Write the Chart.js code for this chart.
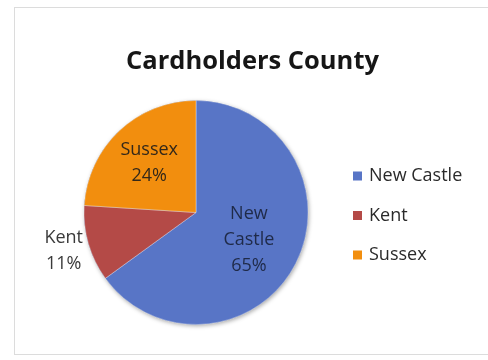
<!DOCTYPE html>
<html>
<head>
<meta charset="utf-8">
<script src="https://cdn.jsdelivr.net/npm/chart.js@4/dist/chart.umd.min.js"></script>
<style>
  html, body { margin:0; padding:0; background:#fff; }
  #frame { position:absolute; left:14px; top:7px; width:480px; height:348px; border:1px solid #dcdcdc; box-sizing:border-box; }
  #wrap { position:absolute; left:0; top:0; width:488px; height:360px; }
</style>
</head>
<body>
<div id="frame"></div>
<div id="wrap"><canvas id="c" width="488" height="360"></canvas></div>
<script>
const titleText = "Cardholders County";
const categories = ["New Castle", "Kent", "Sussex"];
const shares = [65, 11, 24];
const labelLines = [["New", "Castle", "65%"], ["Kent", "11%"], ["Sussex", "24%"]];
const colors = ["#5875C6", "#B44A47", "#F28E0E"];
const labelDist = [0.53, 1.23, 0.61];

const FONT = '"Open Sans", sans-serif';

const decorations = {
  id: 'decorations',
  beforeDatasetsDraw(chart) {
    const ctx = chart.ctx;
    const arc = chart.getDatasetMeta(0).data[0];
    if (!arc) return;
    const p = arc.getProps(['x','y','outerRadius'], true);
    ctx.save();
    ctx.shadowColor = 'rgba(0,0,0,0.35)';
    ctx.shadowBlur = 4;
    ctx.shadowOffsetX = 1;
    ctx.shadowOffsetY = 1.5;
    ctx.fillStyle = '#4a66b3';
    ctx.beginPath();
    ctx.arc(p.x, p.y, p.outerRadius, 0, Math.PI * 2);
    ctx.fill();
    ctx.restore();
  },
  afterDatasetsDraw(chart) {
    const ctx = chart.ctx;
    const meta = chart.getDatasetMeta(0);
    ctx.save();
    // slice labels
    ctx.font = '18px ' + FONT;
    ctx.textAlign = 'center';
    ctx.textBaseline = 'middle';
    meta.data.forEach((arc, i) => {
      const p = arc.getProps(['x','y','startAngle','endAngle','outerRadius'], true);
      const mid = (p.startAngle + p.endAngle) / 2;
      const r = p.outerRadius * labelDist[i];
      const cx = p.x + Math.cos(mid) * r;
      const cy = p.y + Math.sin(mid) * r;
      const lines = labelLines[i];
      const lh = 26;
      ctx.fillStyle = i === 1 ? '#3a3a3a' : (i === 0 ? '#1f2a48' : '#33281a');
      lines.forEach((t, k) => {
        ctx.fillText(t, cx, cy + (k - (lines.length - 1) / 2) * lh);
      });
    });
    // title
    ctx.fillStyle = '#161616';
    ctx.font = 'bold 25.5px ' + FONT;
    ctx.fillText(titleText, 252.5, 62);
    // legend
    ctx.font = '18px ' + FONT;
    ctx.textAlign = 'left';
    const ds = chart.data.datasets[0];
    chart.data.labels.forEach((lab, i) => {
      const y = 176 + i * 39.5;
      ctx.fillStyle = ds.backgroundColor[i];
      ctx.fillRect(353, y - 4.5, 9, 9);
      ctx.fillStyle = '#2a2a2a';
      ctx.fillText(lab, 369, y);
    });
    ctx.restore();
  }
};

new Chart(document.getElementById('c'), {
  type: 'pie',
  data: {
    labels: categories,
    datasets: [{
      data: shares,
      backgroundColor: colors,
      borderColor: 'rgba(255,255,255,0.35)',
      borderWidth: 1
    }]
  },
  options: {
    responsive: false,
    animation: false,
    layout: { padding: { left: 60, right: 156, top: 100, bottom: 35 } },
    plugins: {
      title: { display: false },
      legend: { display: false },
      tooltip: { enabled: false }
    }
  },
  plugins: [decorations]
});
</script>
</body>
</html>
